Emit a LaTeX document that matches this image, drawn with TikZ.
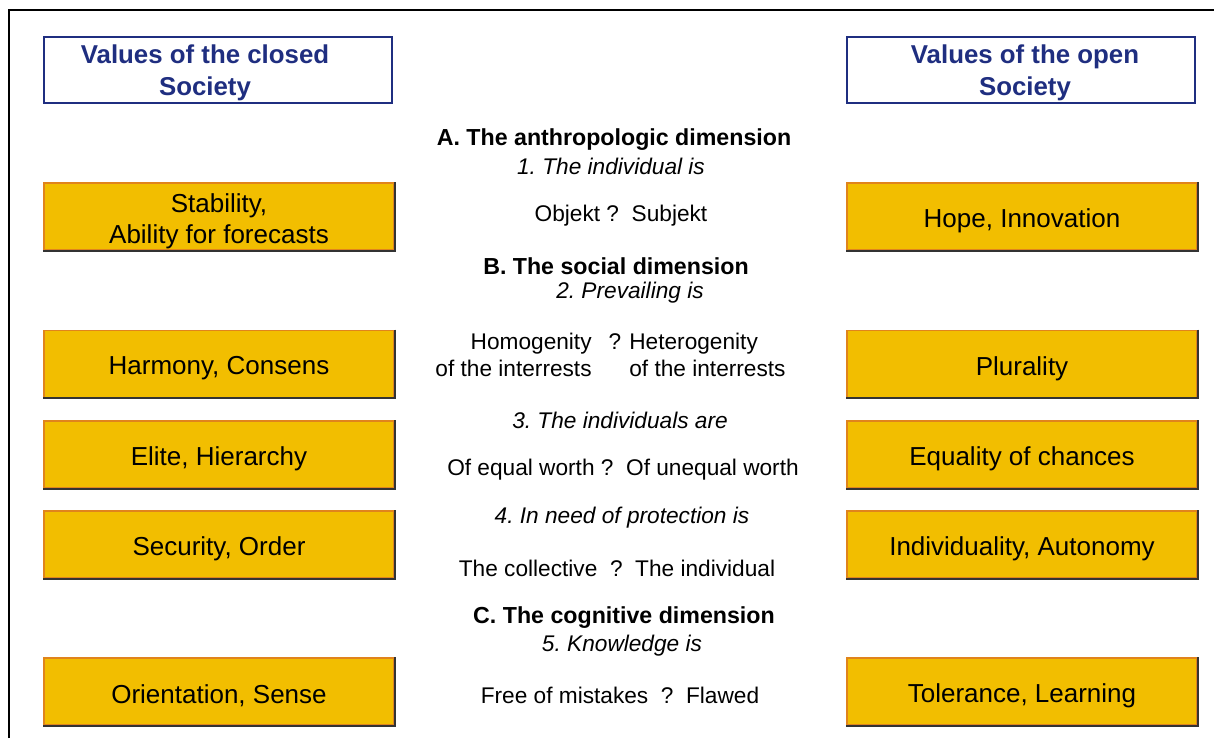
\documentclass[tikz,border=0pt]{standalone}
\usepackage{fontspec}
\setmainfont{Liberation Sans}
\usepackage{xcolor}
\definecolor{gold}{HTML}{F2BE00}
\definecolor{goldrim}{HTML}{E0841C}
\definecolor{navy}{HTML}{1F2E80}
\frenchspacing

\begin{document}
\begin{tikzpicture}[x=0.02cm,y=-0.02cm,
		head/.style={draw=navy,line width=0.8pt,minimum width=6.96cm,minimum height=1.32cm},
		headtext/.style={text=navy,font=\fontsize{14.7}{18}\selectfont\bfseries,align=center},
		value/.style={fill=gold,draw=goldrim,line width=1pt,minimum width=7cm,minimum height=1.34cm},
		valtext/.style={font=\fontsize{14.8}{17.6}\selectfont,align=center,yshift=-2.5pt},
		dim/.style={font=\fontsize{13.2}{15.4}\selectfont\bfseries},
		ask/.style={font=\fontsize{12.9}{15.4}\selectfont\itshape},
		pole/.style={font=\fontsize{12.9}{15.4}\selectfont}]
		\useasboundingbox (0,0) rectangle (1214,738);
		% frame
		\draw[line width=1.2pt] (9,738) -- (9,10) -- (1214,10);
		% column heads
		\node[head] (closed) at (218,70) {};
		\node[headtext] (closedtxt) at (205,73) {Values of the closed\\Society};
		\node[head] (open) at (1021,70) {};
		\node[headtext] (opentxt) at (1025,73) {Values of the open\\Society};
		% value boxes, closed left and open right
		\foreach \y/\l/\r [count=\i] in {216.5/{Stability,\\Ability for forecasts}/{Hope, Innovation},
				364/{Harmony, Consens}/Plurality,
				454.5/{Elite, Hierarchy}/{Equality of chances},
				544.5/{Security, Order}/{Individuality, Autonomy},
				691.5/{Orientation, Sense}/{Tolerance, Learning}}{
			\node[value] (cl\i) at (219,\y) {};
			\node[value] (op\i) at (1022,\y) {};
			\draw[line width=1.2pt,black!80] (cl\i.north east) -- (cl\i.south east) -- (cl\i.south west);
			\draw[line width=1.2pt,black!80] (op\i.north east) -- (op\i.south east) -- (op\i.south west);
			\node[valtext] (cltxt\i) at (cl\i.center) {\l};
			\node[valtext] (optxt\i) at (op\i.center) {\r};
		}
		% dimensions and questions
		\node[dim] (dimA) at (614,140) {A. The anthropologic dimension};
		\node[ask] (q1) at (611,166) {1. The individual is};
		\node[pole] (p1) at (621,216) {Objekt ?\ \ Subjekt};
		\node[dim] (dimB) at (616,266) {B. The social dimension};
		\node[ask] (q2) at (630,293) {2. Prevailing is};
		\node[pole,align=right,anchor=east,inner xsep=0pt] (p2l) at (592,355) {Homogenity\\of the interrests};
		\node[pole] (p2q) at (615,342) {?};
		\node[pole,align=left,anchor=west,inner xsep=0pt] (p2r) at (629,355) {Heterogenity\\of the interrests};
		\node[ask] (q3) at (620,420) {3. The individuals are};
		\node[pole] (p3) at (623,470) {Of equal worth ?\ \ Of unequal worth};
		\node[ask] (q4) at (622,518) {4. In need of protection is};
		\node[pole] (p4) at (617,568) {The collective\ \ ?\ \ The individual};
		\node[dim] (dimC) at (624,618) {C. The cognitive dimension};
		\node[ask] (q5) at (622,646) {5. Knowledge is};
		\node[pole] (p5) at (620,695) {Free of mistakes\ \ ?\ \ Flawed};
	\end{tikzpicture}
\end{document}
